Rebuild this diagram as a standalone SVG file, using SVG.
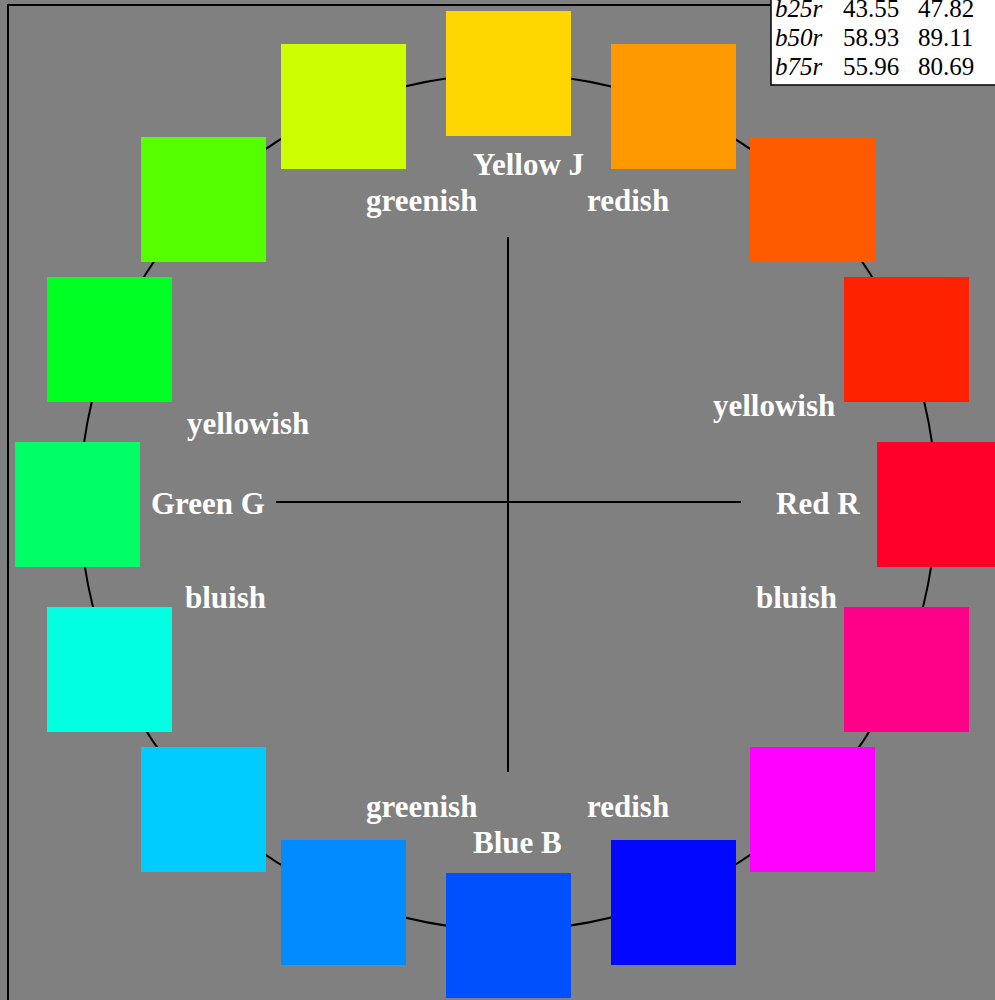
<svg xmlns="http://www.w3.org/2000/svg" width="995" height="1000" viewBox="0 0 995 1000">
<style>
.lbl{font-family:"Liberation Serif","Times New Roman",serif;font-weight:bold;font-size:31px;fill:#ffffff}
.tb{font-family:"Liberation Serif","Times New Roman",serif;font-size:25px;fill:#000}
.it{font-style:italic}
.ln{stroke:#000;stroke-width:2;fill:none}
</style>
<rect x="0" y="0" width="995" height="1000" fill="#808080"/>
<rect x="8" y="5" width="1100" height="1100" class="ln"/>
<g id="connectors">
<circle cx="508" cy="502" r="428" class="ln"/>
<line x1="508" y1="237" x2="508" y2="772" class="ln"/>
<line x1="276" y1="502" x2="741" y2="502" class="ln"/>
</g>
<g id="squares">
<rect id="s1" x="446" y="11" width="125" height="125" fill="#ffd700"/>
<rect id="s2" x="611" y="44" width="125" height="125" fill="#ff9900"/>
<rect id="s3" x="750" y="137" width="125" height="125" fill="#ff5a00"/>
<rect id="s4" x="844" y="277" width="125" height="125" fill="#ff2200"/>
<rect id="s5" x="877" y="442" width="125" height="125" fill="#ff0028"/>
<rect id="s6" x="844" y="607" width="125" height="125" fill="#ff0088"/>
<rect id="s7" x="750" y="747" width="125" height="125" fill="#ff00ff"/>
<rect id="s8" x="611" y="840" width="125" height="125" fill="#0008ff"/>
<rect id="s9" x="446" y="873" width="125" height="125" fill="#0050ff"/>
<rect id="s10" x="281" y="840" width="125" height="125" fill="#008cff"/>
<rect id="s11" x="141" y="747" width="125" height="125" fill="#00ccff"/>
<rect id="s12" x="47" y="607" width="125" height="125" fill="#00ffe0"/>
<rect id="s13" x="15" y="442" width="125" height="125" fill="#00ff66"/>
<rect id="s14" x="47" y="277" width="125" height="125" fill="#00ff22"/>
<rect id="s15" x="141" y="137" width="125" height="125" fill="#55ff00"/>
<rect id="s16" x="281" y="44" width="125" height="125" fill="#ccff00"/>
</g>
<g id="labels">
<text class="lbl" x="473" y="175">Yellow J</text>
<text class="lbl" x="366" y="211">greenish</text>
<text class="lbl" x="587" y="211">redish</text>
<text class="lbl" x="187" y="434">yellowish</text>
<text class="lbl" x="713" y="416">yellowish</text>
<text class="lbl" x="151" y="514">Green G</text>
<text class="lbl" x="776" y="514">Red R</text>
<text class="lbl" x="185" y="608">bluish</text>
<text class="lbl" x="756" y="608">bluish</text>
<text class="lbl" x="366" y="817">greenish</text>
<text class="lbl" x="587" y="817">redish</text>
<text class="lbl" x="473" y="853">Blue B</text>
</g>
<g id="table">
<rect x="771" y="-5" width="240" height="90" fill="#fff" stroke="#000" stroke-width="1.5"/>
<text class="tb it" x="775" y="17">b25r</text>
<text class="tb" x="843" y="17">43.55</text>
<text class="tb" x="918" y="17">47.82</text>
<text class="tb it" x="775" y="46">b50r</text>
<text class="tb" x="843" y="46">58.93</text>
<text class="tb" x="918" y="46">89.11</text>
<text class="tb it" x="775" y="75">b75r</text>
<text class="tb" x="843" y="75">55.96</text>
<text class="tb" x="918" y="75">80.69</text>
</g>
</svg>
